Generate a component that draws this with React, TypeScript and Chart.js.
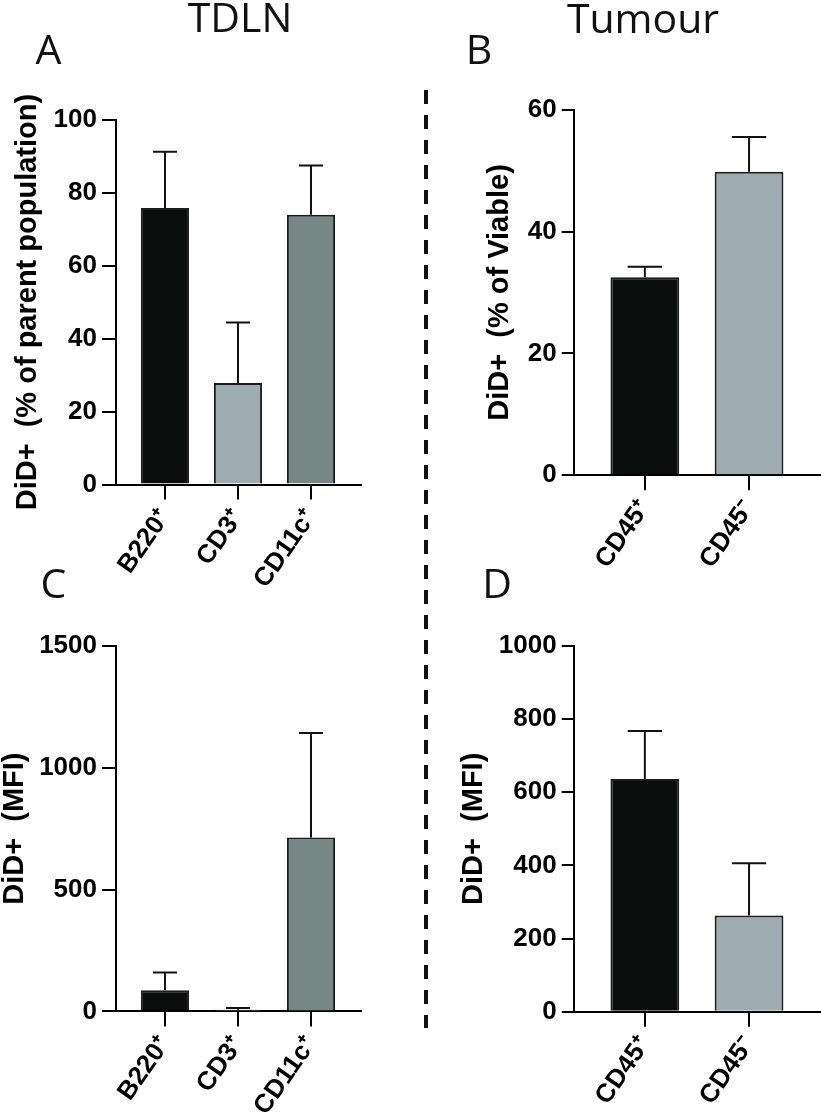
import React, { useEffect, useRef } from 'react';
import { Chart, registerables } from 'chart.js';

Chart.register(...registerables);

// ---------- data ----------
const tdlnCategories = ['B220⁺', 'CD3⁺', 'CD11c⁺'];
const tumourCategories = ['CD45⁺', 'CD45⁻'];

const tdlnPercentMean = [75.8, 27.8, 73.9];
const tdlnPercentSD = [15.4, 16.6, 13.5];

const tumourPercentMean = [32.5, 49.8];
const tumourPercentSD = [1.7, 5.7];

const tdlnMfiMean = [87, 7, 713];
const tdlnMfiSD = [73, 7, 429];

const tumourMfiMean = [636, 263];
const tumourMfiSD = [131, 143];

const tdlnColors = ['#0b0d0c', '#9eacb2', '#778786'];
const tumourColors = ['#0b0d0c', '#9eacb2'];

const percentTicksA = { max: 100, step: 20 };
const percentTicksB = { max: 60, step: 20 };
const mfiTicksC = { max: 1500, step: 500 };
const mfiTicksD = { max: 1000, step: 200 };

// ---------- chart helpers ----------
const AXIS_FONT = "'Liberation Sans', Arial, sans-serif";
const LABEL_ROTATION = 55;

type PanelSpec = {
  categories: string[];
  means: number[];
  sd: number[];
  colors: string[];
  yMax: number;
  yStep: number;
  yTitle: string;
  xMin: number;
  xMax: number;
  yWidth: number;
  xHeight: number;
  yTickLen: number;
  titlePad: number;
  padding: { top: number; right: number; left: number; bottom: number };
};

function errorBarPlugin(sd: number[]) {
  return {
    id: 'errorBars',
    afterDatasetsDraw(chart: any) {
      const { ctx } = chart;
      const xs = chart.scales.x;
      const ys = chart.scales.y;
      const meta = chart.getDatasetMeta(0);
      const pts = chart.data.datasets[0].data as { x: number; y: number }[];
      ctx.save();
      ctx.strokeStyle = '#111';
      ctx.lineWidth = 2;
      ctx.lineCap = 'butt';
      meta.data.forEach((bar: any, i: number) => {
        const m = pts[i].y;
        const cx = xs.getPixelForValue(pts[i].x);
        const yb = ys.getPixelForValue(m);
        const yt = ys.getPixelForValue(m + sd[i]);
        const w = bar.getProps(['width'], true).width;
        const half = w / 4;
        ctx.beginPath();
        ctx.moveTo(cx, yb);
        ctx.lineTo(cx, yt);
        ctx.moveTo(cx - half, yt);
        ctx.lineTo(cx + half, yt);
        ctx.stroke();
      });
      ctx.restore();
    },
  };
}

function buildConfig(p: PanelSpec): any {
  return {
    type: 'bar',
    data: {
      datasets: [
        {
          data: p.means.map((y, i) => ({ x: i, y })),
          backgroundColor: p.colors,
          borderColor: '#1c1c1c',
          borderWidth: 2,
          barPercentage: 0.66,
          categoryPercentage: 1,
        },
      ],
    },
    options: {
      animation: false,
      responsive: true,
      maintainAspectRatio: false,
      events: [],
      layout: { padding: p.padding },
      plugins: { legend: { display: false }, tooltip: { enabled: false } },
      scales: {
        x: {
          type: 'linear',
          offset: false,
          min: p.xMin,
          max: p.xMax,
          afterBuildTicks: (axis: any) => {
            axis.ticks = p.categories.map((_, i) => ({ value: i }));
          },
          afterFit: (axis: any) => {
            axis.height = p.xHeight;
          },
          ticks: {
            autoSkip: false,
            minRotation: LABEL_ROTATION,
            maxRotation: LABEL_ROTATION,
            padding: 4,
            color: '#000',
            font: { family: AXIS_FONT, size: 26, weight: 'bold' },
            callback: (v: number) => p.categories[v] ?? '',
          },
          grid: {
            display: true,
            offset: false,
            drawOnChartArea: false,
            drawTicks: true,
            tickLength: 15,
            color: '#000',
            lineWidth: 2,
          },
          border: { display: true, color: '#000', width: 2 },
        },
        y: {
          min: 0,
          max: p.yMax,
          afterFit: (axis: any) => {
            axis.width = p.yWidth;
          },
          ticks: {
            stepSize: p.yStep,
            padding: 5,
            color: '#000',
            font: { family: AXIS_FONT, size: 26, weight: 'bold' },
            callback: (v: number) => String(v),
          },
          grid: {
            display: true,
            drawOnChartArea: false,
            drawTicks: true,
            tickLength: p.yTickLen,
            color: '#000',
            lineWidth: 2,
          },
          border: { display: true, color: '#000', width: 2 },
          title: {
            display: true,
            text: p.yTitle,
            color: '#000',
            font: { family: AXIS_FONT, size: 29, weight: 'bold', lineHeight: 1 },
            padding: { top: p.titlePad, bottom: 0 },
          },
        },
      },
    },
    plugins: [errorBarPlugin(p.sd)],
  };
}

function BarPanel({ spec, box }: { spec: PanelSpec; box: { left: number; top: number; width: number; height: number } }) {
  const ref = useRef<HTMLCanvasElement>(null);
  useEffect(() => {
    if (!ref.current) return;
    const chart = new Chart(ref.current, buildConfig(spec));
    return () => chart.destroy();
  }, []);
  return (
    <div style={{ position: 'absolute', left: box.left, top: box.top, width: box.width, height: box.height }}>
      <canvas ref={ref} style={{ display: 'block' }} />
    </div>
  );
}

// ---------- panels ----------
const panelA: PanelSpec = {
  categories: tdlnCategories,
  means: tdlnPercentMean,
  sd: tdlnPercentSD,
  colors: tdlnColors,
  yMax: percentTicksA.max,
  yStep: percentTicksA.step,
  yTitle: 'DiD+  (% of parent population)',
  xMin: -0.671,
  xMax: 2.685,
  yWidth: 116,
  xHeight: 135.5,
  yTickLen: 14,
  titlePad: 13.8,
  padding: { top: 59.6, right: 29, left: 0, bottom: 0 },
};

const panelB: PanelSpec = {
  categories: tumourCategories,
  means: tumourPercentMean,
  sd: tumourPercentSD,
  colors: tumourColors,
  yMax: percentTicksB.max,
  yStep: percentTicksB.step,
  yTitle: 'DiD+  (% of Viable)',
  xMin: -0.677,
  xMax: 1.681,
  yWidth: 144.3,
  xHeight: 144.7,
  yTickLen: 12.6,
  titlePad: 55.5,
  padding: { top: 49.6, right: 1, left: 0, bottom: 0 },
};

const panelC: PanelSpec = {
  categories: tdlnCategories,
  means: tdlnMfiMean,
  sd: tdlnMfiSD,
  colors: tdlnColors,
  yMax: mfiTicksC.max,
  yStep: mfiTicksC.step,
  yTitle: 'DiD+  (MFI)',
  xMin: -0.671,
  xMax: 2.685,
  yWidth: 116,
  xHeight: 104.6,
  yTickLen: 14,
  titlePad: 0,
  padding: { top: 55.8, right: 29, left: 0, bottom: 0 },
};

const panelD: PanelSpec = {
  categories: tumourCategories,
  means: tumourMfiMean,
  sd: tumourMfiSD,
  colors: tumourColors,
  yMax: mfiTicksD.max,
  yStep: mfiTicksD.step,
  yTitle: 'DiD+  (MFI)',
  xMin: -0.677,
  xMax: 1.681,
  yWidth: 144.3,
  xHeight: 104.2,
  yTickLen: 12.6,
  titlePad: 29.5,
  padding: { top: 55.8, right: 1, left: 0, bottom: 0 },
};

const HEAD_FONT = "'Open Sans', 'Noto Sans', sans-serif";

export default function App() {
  return (
    <div style={{ position: 'absolute', left: 0, top: 0, width: 821, height: 1116, background: '#fff', overflow: 'hidden' }}>
      <BarPanel spec={panelA} box={{ left: 0, top: 60, width: 390, height: 560 }} />
      <BarPanel spec={panelB} box={{ left: 430, top: 60, width: 391, height: 560 }} />
      <BarPanel spec={panelC} box={{ left: 0, top: 590, width: 390, height: 526 }} />
      <BarPanel spec={panelD} box={{ left: 430, top: 590, width: 391, height: 526 }} />
      <svg
        width={821}
        height={1116}
        style={{ position: 'absolute', left: 0, top: 0, pointerEvents: 'none' }}
      >
        <line x1={426} y1={90} x2={426} y2={1028} stroke="#111" strokeWidth={4} strokeDasharray="14 11" />
        <g fontFamily={HEAD_FONT} fontSize={41} fill="#111">
          <text x={240} y={32} textAnchor="middle">TDLN</text>
          <text x={643} y={33} textAnchor="middle">Tumour</text>
          <text x={48.5} y={64} textAnchor="middle">A</text>
          <text x={479} y={64} textAnchor="middle">B</text>
          <text x={53.5} y={598} textAnchor="middle">C</text>
          <text x={497} y={598} textAnchor="middle">D</text>
        </g>
      </svg>
    </div>
  );
}
